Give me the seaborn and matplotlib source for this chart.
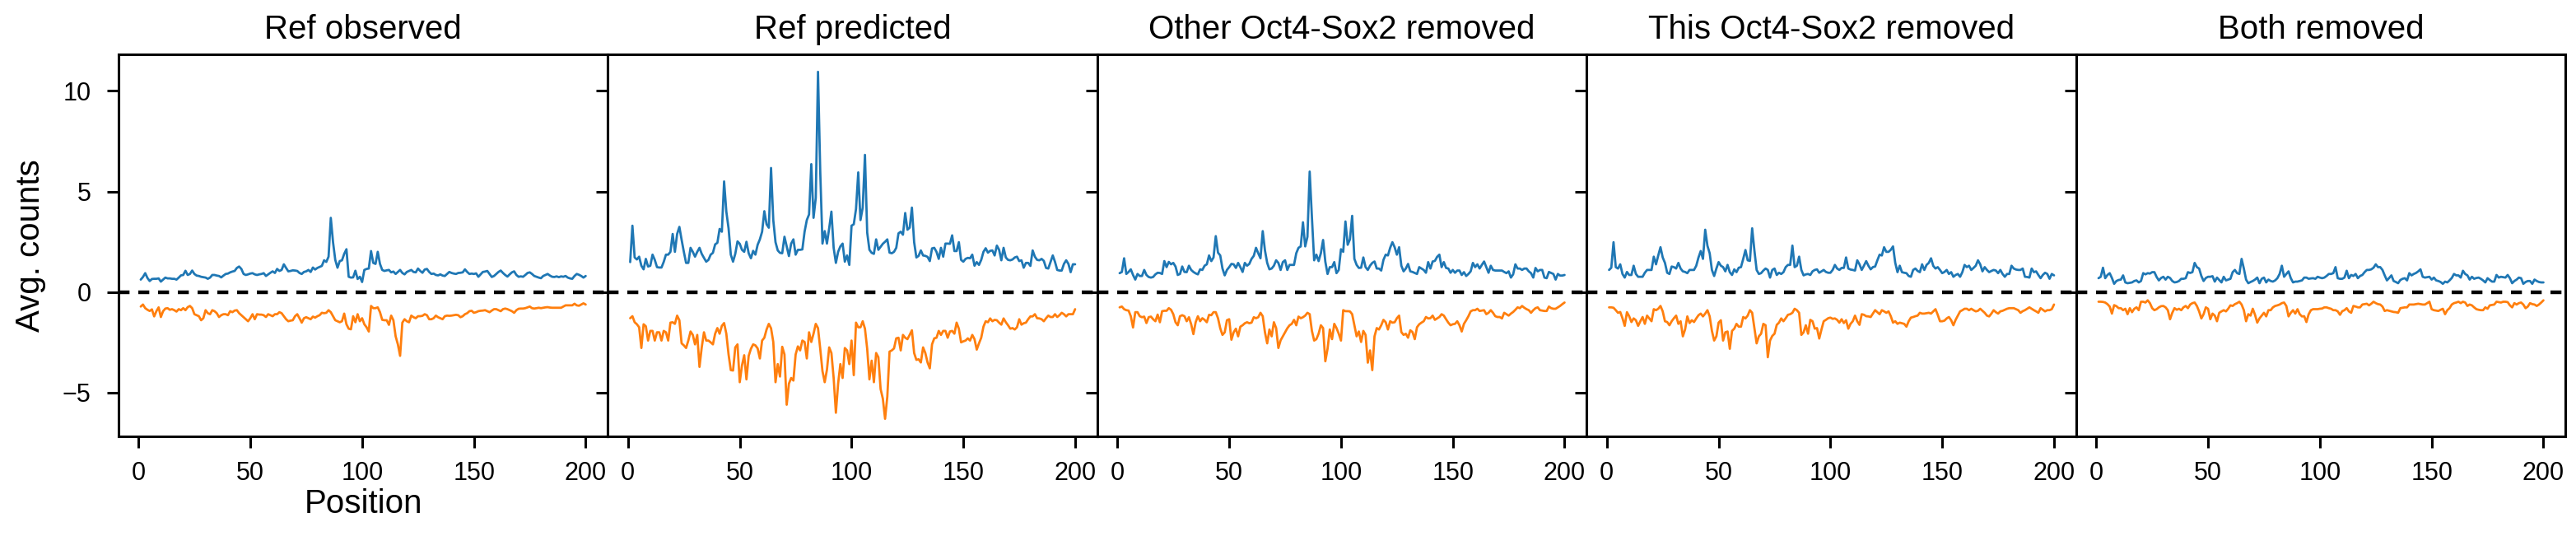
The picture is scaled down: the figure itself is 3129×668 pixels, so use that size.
import numpy as np
import pandas as pd
import matplotlib
matplotlib.use("Agg")
import matplotlib.pyplot as plt
import seaborn as sns

# ---------------- data ----------------
POSITIONS = list(range(1, 201))
PANEL_TITLES = ["Ref observed", "Ref predicted", "Other Oct4-Sox2 removed",
                "This Oct4-Sox2 removed", "Both removed"]
X_TICKS = [0, 50, 100, 150, 200]
Y_TICKS = [-5, 0, 5, 10]

REF_OBS_POS = [
    0.62, 0.75, 0.94, 0.7, 0.55, 0.65, 0.66, 0.66, 0.68, 0.52,
    0.62, 0.72, 0.68, 0.68, 0.66, 0.66, 0.62, 0.72, 0.83, 0.85,
    1.06, 0.85, 0.9, 1.07, 0.9, 0.82, 0.8, 0.76, 0.74, 0.72,
    0.66, 0.72, 0.85, 0.85, 0.82, 0.8, 0.73, 0.82, 0.9, 0.92,
    0.98, 1.02, 1.05, 1.2, 1.27, 1.15, 0.9, 0.85, 0.88, 0.92,
    0.94, 0.88, 0.85, 0.88, 0.9, 0.94, 0.8, 0.88, 0.96, 1.03,
    0.95, 1.15, 1.05, 1.1, 1.38, 1.2, 1.03, 1.05, 1.08, 1.07,
    1.05, 0.95, 0.9, 1.0, 1.03, 1.1, 1.0, 1.22, 1.12, 1.2,
    1.25, 1.3, 1.58, 1.5, 1.76, 3.69, 2.48, 1.6, 1.21, 1.54,
    1.58, 1.9, 2.13, 0.76, 0.72, 0.73, 1.06, 0.65, 0.76, 0.5,
    1.1, 1.15, 1.17, 2.04, 1.45, 1.4, 2.0, 1.4, 1.1, 1.05,
    1.08, 1.1, 0.98, 1.02, 0.9, 1.0, 1.1, 0.95, 0.88, 1.0,
    1.05, 1.1, 1.0, 0.98, 1.17, 1.05, 0.96, 1.12, 1.15, 1.0,
    0.9, 0.92, 0.85, 0.83, 0.88, 0.82, 0.8, 0.9, 1.0, 0.95,
    0.92, 0.9, 0.95, 0.96, 0.98, 1.13, 1.0, 0.9, 0.92, 0.9,
    0.93, 0.76, 0.88, 1.0, 1.02, 1.05, 0.9, 0.75, 0.8, 0.9,
    1.0, 1.07, 0.95, 0.85, 0.77, 0.88, 0.98, 1.03, 0.85, 0.76,
    0.78, 0.76, 0.85, 0.95, 0.98, 0.9, 0.8, 0.76, 0.72, 0.69,
    0.8, 0.85, 0.9, 0.82, 0.76, 0.75, 0.78, 0.74, 0.78, 0.76,
    0.8, 0.72, 0.68, 0.66, 0.8, 0.9, 0.86, 0.8, 0.72, 0.8,
]
REF_OBS_NEG = [
    -0.72, -0.62, -0.8, -0.88, -0.94, -0.86, -1.21, -0.95, -0.76, -1.24,
    -0.95, -0.82, -0.8, -0.88, -0.85, -0.9, -0.97, -0.85, -0.9, -0.8,
    -0.9, -0.75, -0.69, -0.8, -1.1, -1.15, -1.2, -1.4, -1.3, -0.9,
    -1.05, -1.1, -0.9, -0.95, -1.05, -1.24, -1.15, -1.1, -1.1, -1.15,
    -0.95, -1.0, -0.92, -0.9, -1.05, -1.15, -1.25, -1.35, -1.45, -1.3,
    -1.1, -1.35, -1.1, -1.12, -1.12, -1.15, -1.24, -1.1, -1.15, -1.2,
    -1.1, -1.1, -1.0, -1.05, -1.2, -1.35, -1.45, -1.42, -1.4, -1.2,
    -1.1, -1.3, -1.52, -1.3, -1.25, -1.3, -1.35, -1.22, -1.27, -1.2,
    -1.15, -1.03, -1.05, -1.03, -0.9, -1.0, -1.2, -1.4, -1.45, -1.5,
    -1.45, -1.07, -1.6, -1.82, -1.85, -1.2, -1.5, -1.1, -1.45, -1.3,
    -1.6, -1.75, -1.96, -0.69, -0.8, -0.8, -0.76, -1.0, -1.38, -1.4,
    -1.4, -1.63, -1.17, -1.4, -2.2, -2.6, -3.17, -1.52, -1.35, -1.45,
    -1.5, -1.17, -1.25, -1.3, -1.2, -1.2, -1.18, -1.1, -1.15, -1.35,
    -1.35, -1.3, -1.17, -1.25, -1.3, -1.35, -1.2, -1.17, -1.18, -1.17,
    -1.15, -1.13, -1.15, -1.25, -1.2, -1.1, -1.05, -0.95, -0.93, -1.03,
    -1.0, -0.95, -0.93, -0.92, -0.9, -0.95, -1.0, -0.92, -0.85, -0.85,
    -0.9, -0.95, -0.85, -0.82, -0.85, -0.9, -0.95, -1.03, -0.9, -0.83,
    -0.82, -0.82, -0.8, -0.76, -0.72, -0.8, -0.82, -0.8, -0.78, -0.8,
    -0.78, -0.76, -0.75, -0.77, -0.78, -0.78, -0.78, -0.78, -0.78, -0.72,
    -0.66, -0.66, -0.66, -0.66, -0.58, -0.66, -0.68, -0.62, -0.56, -0.62,
]

REF_PRED_POS = [
    1.49, 3.3, 1.72, 1.62, 1.76, 1.31, 1.13, 1.65, 1.27, 1.31,
    1.86, 1.6, 1.24, 1.22, 1.22, 1.5, 1.86, 1.86, 2.0, 2.89,
    2.0, 2.89, 3.24, 2.6, 2.0, 1.45, 1.45, 2.2, 2.0, 1.76,
    2.0, 2.2, 1.9, 1.7, 1.51, 1.6, 1.86, 1.95, 2.37, 2.45,
    3.14, 3.0, 5.5, 4.0, 3.17, 1.86, 1.51, 1.9, 2.52, 2.4,
    2.1, 2.0, 2.5, 1.93, 1.68, 2.05, 1.86, 2.35, 2.62, 3.0,
    4.02, 3.37, 3.2, 6.17, 3.58, 2.48, 2.07, 1.95, 1.93, 2.75,
    2.27, 1.79, 2.41, 2.62, 1.86, 2.1, 2.1, 2.12, 3.0, 3.58,
    3.86, 6.36, 3.69, 4.68, 10.95, 6.0, 2.41, 3.03, 2.41, 3.17,
    4.0, 2.2, 1.45, 2.0, 2.27, 2.41, 1.51, 1.82, 1.35, 3.3,
    3.37, 4.13, 5.95, 3.58, 4.2, 6.82, 2.96, 2.1, 1.95, 1.9,
    2.62, 2.1, 2.25, 2.4, 2.5, 2.62, 1.96, 1.93, 2.0, 2.2,
    2.92, 3.0, 2.85, 3.93, 3.1, 3.2, 4.2, 2.48, 1.72, 1.8,
    2.07, 1.82, 1.8, 1.75, 1.54, 2.17, 2.2, 2.0, 1.65, 2.2,
    1.76, 2.41, 2.41, 2.4, 2.82, 2.04, 2.04, 2.48, 1.6, 1.51,
    1.65, 1.7, 1.68, 1.86, 1.31, 1.49, 1.35, 1.6, 2.0, 2.18,
    1.96, 2.05, 2.07, 1.82, 2.31, 2.1, 1.58, 2.2, 1.72, 1.6,
    1.58, 1.62, 1.72, 1.76, 1.54, 1.58, 1.21, 1.45, 1.45, 1.3,
    2.07, 1.76, 1.6, 1.58, 1.65, 1.55, 1.2, 1.17, 1.5, 1.82,
    1.5, 1.1, 1.07, 1.07, 1.4, 1.58, 1.4, 0.99, 1.38, 1.38,
]
REF_PRED_NEG = [
    -1.3, -1.2, -1.5, -1.6, -1.75, -2.78, -1.6, -1.7, -2.41, -1.93,
    -1.93, -2.41, -2.0, -2.0, -2.41, -1.93, -2.0, -2.41, -1.52, -1.5,
    -1.58, -1.17, -1.4, -2.55, -2.65, -2.78, -2.41, -1.96, -2.13, -2.6,
    -2.13, -3.72, -2.75, -2.0, -2.41, -2.41, -2.5, -2.6, -2.07, -1.79,
    -2.07, -1.68, -1.54, -2.07, -3.1, -3.88, -3.9, -2.75, -2.6, -4.48,
    -3.65, -3.14, -4.34, -3.17, -2.82, -2.6, -2.65, -2.8, -3.3, -2.41,
    -2.27, -1.86, -1.58, -1.8, -2.48, -4.48, -3.58, -4.2, -2.72, -3.1,
    -5.6, -4.55, -4.27, -4.4, -3.1, -2.7, -2.9, -2.41, -2.48, -3.3,
    -2.0, -2.48, -2.07, -1.58, -1.79, -2.82, -3.93, -4.48, -3.86, -2.75,
    -3.03, -4.27, -6.0, -4.55, -3.58, -4.27, -2.78, -2.9, -3.58, -2.41,
    -4.13, -1.52, -1.75, -1.75, -1.45, -1.82, -2.82, -4.34, -3.41, -4.48,
    -3.03, -3.24, -4.82, -5.3, -6.3, -5.2, -2.96, -2.9, -2.8, -2.3,
    -2.27, -2.9, -2.13, -2.27, -2.34, -2.13, -1.9, -3.03, -3.37, -3.34,
    -3.5, -2.75, -3.03, -3.5, -3.79, -2.6, -2.3, -2.27, -1.93, -2.13,
    -1.93, -1.93, -2.27, -1.96, -1.93, -2.07, -1.52, -1.82, -2.5, -2.45,
    -2.41, -2.3, -2.41, -2.13, -2.34, -2.86, -2.55, -2.27, -1.72, -1.45,
    -1.5, -1.31, -1.45, -1.38, -1.4, -1.52, -1.62, -1.31, -1.5, -1.65,
    -1.82, -1.79, -1.86, -1.75, -1.35, -1.62, -1.55, -1.52, -1.35, -1.21,
    -1.21, -1.1, -1.3, -1.31, -1.35, -1.45, -1.3, -1.17, -1.24, -1.24,
    -1.1, -1.24, -1.15, -1.03, -1.1, -1.21, -1.1, -1.1, -1.1, -0.85,
]

OTHER_REM_POS = [
    0.94, 1.0, 1.68, 0.9, 1.0, 1.13, 0.85, 0.62, 0.9, 0.8,
    0.8, 1.1, 0.85, 0.75, 0.72, 0.75, 0.88, 0.96, 0.95, 0.9,
    1.54, 1.24, 1.5, 1.38, 1.45, 1.27, 0.85, 0.9, 1.27, 1.0,
    0.99, 1.31, 1.1, 1.0, 0.93, 0.88, 1.13, 1.1, 1.31, 1.38,
    1.82, 1.54, 1.72, 2.78, 1.96, 1.82, 1.17, 0.83, 1.1, 1.24,
    1.4, 1.38, 1.2, 1.45, 1.24, 1.0, 1.45, 1.31, 1.4, 1.65,
    1.8, 2.2, 1.93, 1.68, 3.03, 2.07, 1.45, 1.13, 1.17, 1.31,
    1.58, 1.45, 1.1, 1.49, 1.58, 1.1, 1.35, 1.35, 1.35, 1.93,
    2.2, 2.27, 3.47, 2.27, 2.75, 5.99, 3.72, 1.58, 1.86, 1.54,
    1.93, 2.59, 1.51, 0.9, 1.24, 1.24, 1.49, 0.94, 1.1, 2.13,
    2.0, 3.51, 2.35, 2.62, 3.79, 1.65, 1.35, 1.2, 1.21, 1.72,
    1.24, 1.1, 1.31, 1.45, 1.52, 1.17, 1.17, 1.07, 1.6, 1.86,
    1.82, 2.2, 2.48, 2.23, 1.86, 2.23, 1.31, 1.03, 1.17, 1.4,
    1.03, 1.0, 0.95, 0.9, 1.24, 1.17, 1.1, 0.96, 1.49, 1.17,
    1.52, 1.55, 1.75, 1.86, 1.24, 1.49, 1.2, 1.17, 0.96, 1.1,
    0.96, 1.07, 1.07, 0.85, 0.99, 0.8, 0.9, 1.03, 1.45, 1.24,
    1.38, 1.17, 1.35, 1.52, 1.24, 0.96, 1.31, 1.1, 1.07, 1.07,
    1.07, 1.07, 1.0, 0.94, 1.03, 0.72, 0.88, 1.38, 1.17, 1.17,
    1.1, 1.17, 1.17, 1.03, 0.94, 0.72, 1.2, 1.03, 1.1, 1.1,
    0.72, 0.69, 1.0, 0.95, 0.9, 0.62, 0.9, 0.82, 0.82, 0.85,
]
OTHER_REM_NEG = [
    -0.76, -0.72, -0.85, -0.9, -0.92, -1.2, -1.76, -1.0, -1.0, -1.2,
    -1.25, -1.22, -1.54, -1.25, -1.22, -1.35, -1.45, -1.12, -1.5, -0.95,
    -0.93, -0.93, -0.8, -0.88, -1.1, -1.5, -1.65, -1.2, -1.15, -1.2,
    -1.45, -1.25, -1.6, -2.09, -1.5, -1.2, -1.45, -1.3, -1.38, -1.5,
    -1.13, -1.15, -1.0, -1.0, -1.3, -1.8, -2.13, -2.0, -1.4, -1.35,
    -2.37, -2.0, -1.82, -2.2, -1.72, -1.65, -1.55, -1.5, -1.55, -1.52,
    -1.25, -1.3, -1.25, -1.03, -1.2, -2.0, -2.55, -1.86, -2.2, -1.5,
    -1.79, -2.78, -2.4, -2.2, -2.0, -1.8, -1.65, -1.58, -1.38, -1.65,
    -1.22, -1.3, -1.25, -1.17, -1.03, -1.1, -1.93, -2.41, -2.34, -2.07,
    -1.65, -1.79, -3.44, -2.82, -1.86, -2.34, -1.58, -1.79, -2.07, -2.41,
    -0.9, -0.95, -0.95, -0.96, -1.1, -1.65, -2.2, -1.96, -2.48, -1.93,
    -2.13, -3.51, -2.9, -3.88, -2.2, -1.79, -1.86, -1.65, -1.38, -1.5,
    -1.86, -1.45, -1.52, -1.5, -1.3, -1.17, -1.99, -2.13, -2.07, -2.27,
    -1.9, -1.99, -2.34, -1.75, -1.6, -1.52, -1.45, -1.24, -1.31, -1.3,
    -1.17, -1.38, -1.31, -1.24, -1.1, -1.17, -1.35, -1.52, -1.65, -1.6,
    -1.58, -1.45, -1.65, -1.96, -1.58, -1.4, -1.2, -0.96, -0.9, -0.9,
    -0.83, -0.94, -0.92, -0.9, -1.1, -1.03, -0.9, -1.03, -1.2, -1.24,
    -1.24, -1.31, -1.03, -1.1, -1.17, -1.07, -0.99, -0.88, -0.76, -0.8,
    -0.69, -0.78, -0.85, -0.9, -1.03, -0.9, -0.8, -0.76, -0.9, -0.92,
    -0.94, -0.94, -0.72, -0.8, -0.83, -0.83, -0.76, -0.69, -0.6, -0.52,
]

THIS_REM_POS = [
    1.1, 1.21, 2.48, 1.24, 1.17, 1.38, 0.9, 0.72, 1.0, 0.85,
    0.85, 1.31, 0.9, 0.76, 0.76, 0.76, 0.96, 1.1, 1.1, 1.1,
    1.76, 1.38, 1.82, 2.23, 1.72, 1.45, 0.96, 0.9, 1.27, 1.24,
    1.17, 1.45, 1.17, 1.03, 1.0, 0.94, 1.1, 1.1, 1.1, 1.31,
    1.72, 2.04, 1.65, 3.1, 2.3, 1.93, 1.1, 0.8, 1.17, 1.49,
    1.31, 1.24, 1.03, 1.35, 0.99, 0.85, 1.13, 0.99, 1.21, 1.24,
    1.65, 2.09, 1.58, 1.55, 3.17, 2.07, 1.1, 0.9, 0.94, 1.07,
    1.17, 1.1, 0.72, 1.1, 1.17, 0.85, 0.96, 0.9, 0.99, 1.24,
    1.35, 1.35, 2.31, 1.24, 1.31, 1.76, 1.1, 0.83, 0.88, 0.9,
    0.85, 1.03, 1.1, 1.13, 0.96, 1.03, 1.1, 1.0, 0.96, 0.96,
    1.1, 1.35, 1.17, 1.1, 1.2, 1.2, 1.72, 1.17, 1.12, 1.1,
    1.07, 1.58, 1.38, 1.1, 1.31, 1.54, 1.31, 1.13, 1.24, 1.27,
    1.58, 1.86, 1.82, 2.23, 2.0, 2.0, 2.1, 2.27, 1.45, 0.99,
    1.31, 0.99, 0.96, 0.94, 0.8, 0.76, 1.1, 1.17, 1.05, 0.99,
    1.38, 1.1, 1.35, 1.45, 1.68, 1.3, 1.17, 1.24, 1.1, 0.94,
    1.0, 1.1, 0.9, 0.99, 0.76, 0.85, 0.9, 0.76, 0.99, 1.35,
    1.24, 1.31, 1.1, 1.2, 1.31, 1.58, 1.38, 1.03, 1.24, 1.1,
    0.99, 1.05, 1.1, 1.07, 0.94, 1.1, 0.9, 0.76, 0.9, 0.9,
    1.31, 1.17, 1.12, 1.1, 1.1, 1.17, 0.76, 0.75, 0.72, 1.17,
    0.99, 1.03, 0.85, 0.69, 0.85, 0.96, 0.9, 0.66, 0.9, 0.83,
]
THIS_REM_NEG = [
    -0.76, -0.76, -0.78, -0.9, -1.03, -0.99, -1.3, -1.68, -1.0, -1.2,
    -1.49, -1.31, -1.4, -1.68, -1.45, -1.24, -1.58, -1.17, -1.31, -1.45,
    -0.85, -0.9, -0.83, -0.69, -0.96, -1.45, -1.49, -1.65, -1.45, -1.3,
    -1.17, -1.58, -1.45, -2.2, -1.86, -1.21, -1.54, -1.4, -1.49, -1.31,
    -1.15, -1.07, -1.21, -1.07, -0.9, -1.21, -1.93, -2.41, -2.2, -1.52,
    -1.4, -2.41, -2.0, -1.96, -2.82, -1.93, -1.82, -1.58, -1.72, -1.72,
    -1.24, -1.31, -1.17, -0.9, -1.03, -1.79, -2.55, -2.2, -2.07, -1.58,
    -1.65, -3.24, -2.41, -2.18, -2.07, -1.63, -1.52, -1.31, -1.45, -1.3,
    -1.13, -1.1, -1.03, -0.83, -0.9, -1.03, -2.13, -2.0, -1.65, -2.07,
    -1.38, -1.45, -1.82, -1.79, -2.31, -1.86, -1.45, -1.38, -1.3, -1.27,
    -1.33, -1.31, -1.38, -1.52, -1.35, -1.54, -1.4, -1.82, -1.58, -1.45,
    -1.17, -1.45, -1.63, -1.1, -1.13, -1.2, -1.21, -1.24, -1.07, -0.9,
    -1.0, -1.1, -0.9, -0.96, -1.03, -0.96, -1.2, -1.52, -1.45, -1.58,
    -1.52, -1.55, -1.58, -1.72, -1.45, -1.27, -1.24, -1.2, -1.17, -1.03,
    -1.07, -1.07, -1.05, -1.03, -1.07, -0.96, -0.85, -1.13, -1.45, -1.45,
    -1.42, -1.31, -1.24, -1.4, -1.65, -1.38, -1.17, -0.96, -0.9, -0.83,
    -0.83, -0.9, -0.83, -0.9, -0.96, -0.93, -0.83, -0.93, -1.03, -1.17,
    -1.21, -1.07, -0.9, -1.0, -1.07, -0.96, -0.93, -0.88, -0.83, -0.8,
    -0.8, -0.8, -0.85, -0.9, -1.03, -0.95, -0.9, -0.83, -0.76, -0.83,
    -0.9, -0.96, -1.03, -0.8, -0.88, -0.96, -0.9, -0.9, -0.85, -0.62,
]

BOTH_REM_POS = [
    0.69, 0.76, 1.21, 0.69, 0.85, 0.94, 0.7, 0.41, 0.55, 0.6,
    0.62, 0.83, 0.48, 0.44, 0.46, 0.48, 0.55, 0.58, 0.48, 0.55,
    0.94, 0.88, 0.94, 0.92, 0.99, 0.99, 0.75, 0.58, 0.7, 0.76,
    0.62, 0.76, 0.7, 0.55, 0.48, 0.5, 0.55, 0.66, 0.66, 0.69,
    0.99, 0.95, 0.99, 1.45, 1.24, 1.17, 0.8, 0.55, 0.7, 0.76,
    0.76, 0.79, 0.52, 0.72, 0.6, 0.48, 0.76, 0.58, 0.62, 0.66,
    0.99, 1.1, 0.94, 0.9, 1.65, 1.17, 0.62, 0.44, 0.5, 0.55,
    0.62, 0.72, 0.44, 0.66, 0.72, 0.48, 0.62, 0.55, 0.52, 0.58,
    0.69, 0.9, 1.31, 0.76, 0.9, 1.03, 0.69, 0.48, 0.52, 0.52,
    0.55, 0.58, 0.72, 0.72, 0.66, 0.68, 0.69, 0.66, 0.76, 0.72,
    0.69, 0.72, 0.8, 0.9, 0.9, 0.94, 1.24, 0.69, 0.66, 0.66,
    0.72, 1.06, 0.69, 0.85, 0.8, 0.9, 0.69, 0.8, 0.85, 0.99,
    1.1, 1.1, 1.13, 1.21, 1.38, 1.24, 1.24, 1.1, 0.83, 0.58,
    0.7, 0.83, 0.55, 0.5, 0.44, 0.6, 0.66, 0.69, 0.58, 0.94,
    0.83, 0.9, 0.95, 1.03, 1.13, 0.76, 0.72, 0.74, 0.76, 0.62,
    0.72, 0.58, 0.55, 0.5, 0.41, 0.52, 0.48, 0.58, 0.7, 0.9,
    0.83, 0.83, 0.72, 1.06, 0.9, 0.83, 0.62, 0.76, 0.66, 0.7,
    0.72, 0.66, 0.58, 0.48, 0.69, 0.6, 0.52, 0.52, 0.85, 0.72,
    0.76, 0.74, 0.72, 0.85, 0.69, 0.44, 0.55, 0.62, 0.72, 0.69,
    0.41, 0.5, 0.55, 0.55, 0.41, 0.62, 0.55, 0.5, 0.48, 0.48,
]
BOTH_REM_NEG = [
    -0.48, -0.48, -0.49, -0.52, -0.6, -0.72, -1.07, -0.65, -0.7, -0.8,
    -0.8, -0.9, -0.83, -1.1, -0.8, -1.0, -0.83, -0.76, -0.9, -0.48,
    -0.48, -0.52, -0.41, -0.55, -0.8, -0.9, -0.85, -0.76, -0.7, -0.69,
    -0.76, -0.9, -1.35, -1.03, -0.8, -0.88, -0.83, -0.9, -0.76, -0.69,
    -0.8, -0.62, -0.55, -0.52, -0.69, -0.96, -1.31, -1.1, -0.76, -0.83,
    -1.35, -1.07, -1.17, -1.45, -1.03, -0.96, -0.9, -0.96, -0.83, -0.66,
    -0.69, -0.6, -0.55, -0.48, -0.62, -0.9, -1.45, -1.1, -1.17, -0.83,
    -1.13, -1.52, -1.31, -1.17, -1.03, -1.21, -0.9, -0.9, -0.76, -0.69,
    -0.66, -0.62, -0.55, -0.52, -0.69, -1.21, -1.03, -0.9, -1.07, -0.85,
    -1.1, -1.21, -1.2, -1.49, -1.1, -0.9, -0.85, -0.85, -0.85, -0.83,
    -0.82, -0.76, -0.76, -0.8, -0.83, -0.9, -0.9, -0.96, -1.13, -0.95,
    -0.9, -0.8, -0.96, -1.03, -0.69, -0.72, -0.76, -0.76, -0.62, -0.6,
    -0.58, -0.66, -0.58, -0.48, -0.55, -0.6, -0.62, -0.72, -0.94, -0.9,
    -0.93, -0.96, -0.99, -1.0, -1.03, -0.8, -0.78, -0.76, -0.76, -0.62,
    -0.62, -0.62, -0.6, -0.58, -0.6, -0.62, -0.62, -0.55, -0.48, -0.85,
    -0.9, -0.92, -0.94, -0.88, -0.83, -1.1, -0.9, -0.8, -0.62, -0.55,
    -0.52, -0.48, -0.55, -0.48, -0.52, -0.69, -0.62, -0.66, -0.76, -0.85,
    -0.88, -0.9, -0.9, -0.76, -0.83, -0.66, -0.64, -0.62, -0.48, -0.5,
    -0.52, -0.48, -0.48, -0.5, -0.66, -0.76, -0.55, -0.62, -0.55, -0.52,
    -0.62, -0.8, -0.72, -0.55, -0.6, -0.62, -0.69, -0.62, -0.52, -0.41,
]

POS_SERIES = [REF_OBS_POS, REF_PRED_POS, OTHER_REM_POS, THIS_REM_POS, BOTH_REM_POS]
NEG_SERIES = [REF_OBS_NEG, REF_PRED_NEG, OTHER_REM_NEG, THIS_REM_NEG, BOTH_REM_NEG]

BLUE = "#1f77b4"
ORANGE = "#ff7f0e"

# ---------------- style ----------------
sns.set_theme(style="ticks")
plt.rcParams.update({
    "axes.edgecolor": "black",
    "axes.linewidth": 1.1,
    "xtick.color": "black",
    "ytick.color": "black",
    "xtick.major.size": 5,
    "ytick.major.size": 5,
    "xtick.major.width": 1.1,
    "ytick.major.width": 1.1,
    "xtick.major.pad": 6,
    "ytick.major.pad": 7,
    "xtick.labelsize": 11,
    "ytick.labelsize": 11,
    "axes.labelcolor": "black",
    "text.color": "black",
})
plt.rcParams["font.family"] = ["Liberation Sans", "DejaVu Sans"]

fig, axes = plt.subplots(1, 5, figsize=(15.645, 3.34), dpi=200, sharey=True)
fig.subplots_adjust(left=0.046, right=0.996, top=0.901, bottom=0.207, wspace=0)

for ax, title, pos, neg in zip(axes, PANEL_TITLES, POS_SERIES, NEG_SERIES):
    df = pd.DataFrame({"Position": POSITIONS, "pos": pos, "neg": neg})
    sns.lineplot(data=df, x="Position", y="pos", ax=ax, color=BLUE, linewidth=1.0)
    sns.lineplot(data=df, x="Position", y="neg", ax=ax, color=ORANGE, linewidth=1.0)
    ax.axhline(0, color="black", linestyle=(0, (3.0, 2.4)), linewidth=1.6)
    ax.set_title(title, fontsize=14.5, pad=7)
    ax.set_xticks(X_TICKS)
    ax.set_yticks(Y_TICKS)
    ax.set_xlabel("")
    ax.set_ylabel("")

axes[0].set_xlabel("Position", fontsize=14.5, labelpad=1)
axes[0].set_ylabel("Avg. counts", fontsize=14.5, labelpad=7)

fig.savefig("out.png", dpi=200)
